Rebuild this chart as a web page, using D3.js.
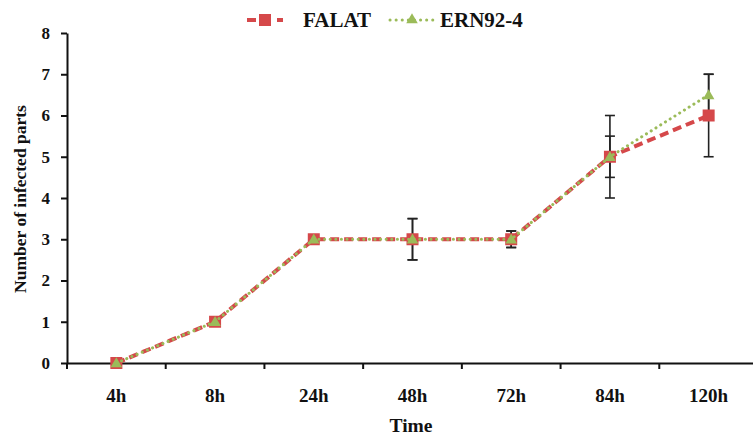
<!DOCTYPE html>
<html>
<head>
<meta charset="utf-8">
<script src="https://cdn.jsdelivr.net/npm/d3@7"></script>
<style>
  body { margin: 0; background: #fff; }
  text { font-family: "Liberation Serif", "Times New Roman", serif; font-weight: bold; fill: #111; }
</style>
</head>
<body>
<script>
// chart data
const times = ["4h", "8h", "24h", "48h", "72h", "84h", "120h"];
const falat = [0, 1, 3, 3, 3, 5, 6];
const ern = [0, 1, 3, 3, 3, 5, 6.5];
const falatErr = [0, 0, 0, 0.5, 0.2, 1, 1];
const ernErr = [0, 0, 0, 0.5, 0.2, 0.5, 0.5];
const yTicks = [0, 1, 2, 3, 4, 5, 6, 7, 8];

const W = 753, H = 437;
const svg = d3.select("body").append("svg")
    .attr("width", W)
    .attr("height", H);

const x = d3.scaleBand().domain(times).range([67, 758]);
const y = d3.scaleLinear().domain([0, 8]).range([363, 33]);
const cx = d => x(d) + x.bandwidth() / 2;

// y axis
const yAxis = svg.append("g")
    .attr("transform", "translate(67,0)")
    .call(d3.axisLeft(y).tickValues(yTicks).tickSize(6).tickPadding(11).tickSizeOuter(0));
yAxis.select(".domain").attr("stroke", "#111").attr("stroke-width", 2);
yAxis.selectAll(".tick line").attr("stroke", "#111").attr("stroke-width", 2);
yAxis.selectAll("text").style("font-size", "17px");

// x axis
const xAxis = svg.append("g")
    .attr("transform", "translate(0,363)")
    .call(d3.axisBottom(x).tickSize(0).tickPadding(26));
xAxis.select(".domain").attr("stroke", "#111").attr("stroke-width", 2);
xAxis.selectAll("text").style("font-size", "19px");
// tick marks between categories
svg.append("g").selectAll("line")
    .data(times)
    .join("line")
    .attr("x1", d => x(d)).attr("x2", d => x(d))
    .attr("y1", 363).attr("y2", 369)
    .attr("stroke", "#111").attr("stroke-width", 2);

// axis titles
svg.append("text")
    .attr("x", 411).attr("y", 432)
    .attr("text-anchor", "middle")
    .style("font-size", "19.5px")
    .text("Time");
svg.append("text")
    .attr("transform", "translate(26,199) rotate(-90)")
    .attr("text-anchor", "middle")
    .style("font-size", "17.5px")
    .text("Number of infected parts");

// error bars
function errorBars(vals, errs) {
    const g = svg.append("g").attr("stroke", "#222").attr("stroke-width", 1.6);
    const pts = times.map((t, i) => ({ t, v: vals[i], e: errs[i] })).filter(d => d.e > 0);
    g.selectAll(".v").data(pts).join("line")
        .attr("x1", d => cx(d.t)).attr("x2", d => cx(d.t))
        .attr("y1", d => y(d.v - d.e)).attr("y2", d => y(d.v + d.e));
    g.selectAll(".lo").data(pts).join("line")
        .attr("x1", d => cx(d.t) - 5).attr("x2", d => cx(d.t) + 5)
        .attr("y1", d => y(d.v - d.e)).attr("y2", d => y(d.v - d.e));
    g.selectAll(".hi").data(pts).join("line")
        .attr("x1", d => cx(d.t) - 5).attr("x2", d => cx(d.t) + 5)
        .attr("y1", d => y(d.v + d.e)).attr("y2", d => y(d.v + d.e));
}
errorBars(falat, falatErr);
errorBars(ern, ernErr);

const line = d3.line().x((d, i) => cx(times[i])).y(d => y(d));
const red = "#d5484a", green = "#9bbb59";

// FALAT series
svg.append("path")
    .attr("d", line(falat))
    .attr("fill", "none")
    .attr("stroke", red)
    .attr("stroke-width", 4)
    .attr("stroke-dasharray", "9,5");
svg.append("g").selectAll("rect")
    .data(falat)
    .join("rect")
    .attr("x", (d, i) => cx(times[i]) - 6)
    .attr("y", d => y(d) - 6)
    .attr("width", 12).attr("height", 12)
    .attr("fill", red);

// ERN92-4 series
svg.append("path")
    .attr("d", line(ern))
    .attr("fill", "none")
    .attr("stroke", green)
    .attr("stroke-width", 3)
    .attr("stroke-linecap", "round")
    .attr("stroke-dasharray", "0.1,5.5");
const tri = d3.symbol().type(d3.symbolTriangle).size(58);
svg.append("g").selectAll("path")
    .data(ern)
    .join("path")
    .attr("d", tri)
    .attr("transform", (d, i) => `translate(${cx(times[i])},${y(d) + 1})`)
    .attr("fill", green);

// legend
const lg = svg.append("g");
lg.append("line").attr("x1", 247).attr("x2", 283).attr("y1", 20).attr("y2", 20)
    .attr("stroke", red).attr("stroke-width", 4).attr("stroke-dasharray", "9,6");
lg.append("rect").attr("x", 259).attr("y", 14).attr("width", 12).attr("height", 12).attr("fill", red);
lg.append("text").attr("x", 303).attr("y", 27).style("font-size", "21px").text("FALAT");
lg.append("line").attr("x1", 390).attr("x2", 433).attr("y1", 20).attr("y2", 20)
    .attr("stroke", green).attr("stroke-width", 3).attr("stroke-linecap", "round")
    .attr("stroke-dasharray", "0.1,6");
lg.append("path").attr("d", tri).attr("transform", "translate(412,20)").attr("fill", green);
lg.append("text").attr("x", 440).attr("y", 27).style("font-size", "21px").text("ERN92-4");
</script>
</body>
</html>
